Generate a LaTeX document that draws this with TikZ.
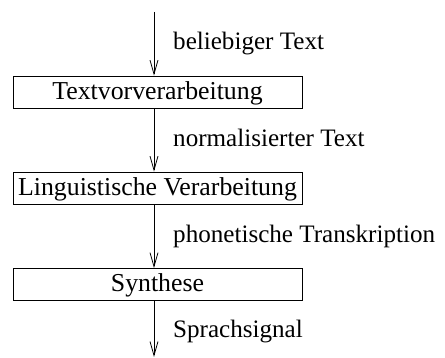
\documentclass[tikz,border=0pt]{standalone}
\usepackage{fontspec}
\setmainfont{Liberation Serif}
\usetikzlibrary{arrows.meta}
\begin{document}
\begin{tikzpicture}[x=1pt,y=1pt,
  procbox/.style={draw, line width=0.8pt, minimum width=289pt, minimum height=32pt,
    inner sep=0pt, text height=20pt, text depth=5pt,
    font=\fontsize{25.8}{30}\selectfont},
  lbl/.style={anchor=base west, inner sep=0pt, font=\fontsize{25.1}{30}\selectfont},
  flow/.style={line width=0.8pt, -{Straight Barb[length=14pt,width=8pt,line width=0.8pt]}}]
\useasboundingbox (0,0) rectangle (445,358);
\node[procbox] (b1) at (157.5,266) {Textvorverarbeitung};
\node[procbox] (b2) at (157.5,170) {Linguistische Verarbeitung};
\node[procbox] (b3) at (157.5,73.5) {Synthese};
\coordinate (top) at (154,346);
\coordinate (bot) at (154,1);
\draw[flow] (top) -- (top |- b1.north);
\draw[flow] (top |- b1.south) -- (top |- b2.north);
\draw[flow] (top |- b2.south) -- (top |- b3.north);
\draw[flow] (top |- b3.south) -- (bot);
\node[lbl] (l1) at (173,308) {beliebiger Text};
\node[lbl] (l2) at (173,211) {normalisierter Text};
\node[lbl] (l3) at (173,115) {phonetische Transkription};
\node[lbl] (l4) at (173,20) {Sprachsignal};
\end{tikzpicture}
\end{document}
